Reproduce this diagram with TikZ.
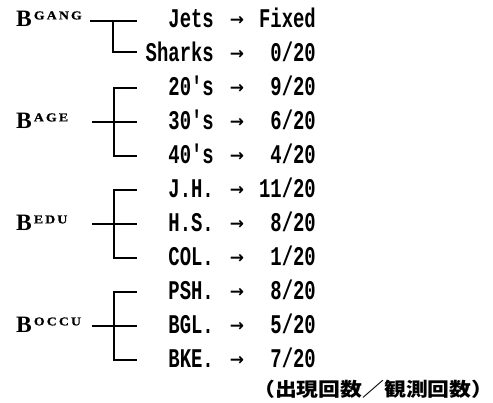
\documentclass[tikz,border=0pt]{standalone}
\usepackage{fontspec}
\setmainfont{Liberation Serif}
\newfontfamily\monof[FakeStretch=0.7]{Liberation Mono}
\newfontfamily\arrf{DejaVu Sans}
\newfontfamily\supf[FakeStretch=1.15,LetterSpace=18,BoldFeatures={FakeBold=1}]{Liberation Serif}
\newfontfamily\cjkf[FakeStretch=1.15]{Noto Sans CJK JP}
\newcommand{\BL}[1]{B\hspace{2pt}\raisebox{7.6pt}{\supf\bfseries\fontsize{12}{12}\selectfont #1}}
\begin{document}
\begin{tikzpicture}[x=1pt,y=-1pt,
  blab/.style={anchor=base west,inner sep=0pt,font=\bfseries\fontsize{23.5}{23.5}\selectfont},
  rowlab/.style={anchor=base east,inner sep=0pt,font=\monof\bfseries\fontsize{27}{27}\selectfont},
  vallab/.style={anchor=base east,inner sep=0pt,font=\monof\bfseries\fontsize{27}{27}\selectfont},
  arr/.style={anchor=base,inner sep=0pt,font=\arrf\bfseries\fontsize{17}{17}\selectfont},
  conn/.style={line width=2pt,line join=miter}]
\useasboundingbox (0,0) rectangle (493,403);
% ---- labels B
\node[blab] (bG) at (16,27) {\BL{GANG}};
\node[blab] (bA) at (16,129) {\BL{AGE}};
\node[blab] (bE) at (16,231) {\BL{EDU}};
\node[blab] (bO) at (16,333) {\BL{OCCU}};
% ---- rows
\foreach \n/\y/\t/\v in {r1/20/Jets/Fixed, r2/54/Sharks/0\slash 20, r3/88/20's/9\slash 20, r4/122/30's/6\slash 20, r5/156/40's/4\slash 20, r6/190/J.H./11\slash 20, r7/224/H.S./8\slash 20, r8/258/COL./1\slash 20, r9/292/PSH./8\slash 20, r10/326/BGL./5\slash 20, r11/360/BKE./7\slash 20}{
  \node[rowlab] (\n) at (214,\y+7.5) {\t};
  \node[arr] (\n a) at (237,\y+6) {→};
  \node[vallab] (\n v) at (316,\y+7.5) {\v};
}
% ---- connectors
\coordinate (gS) at (90,21);  \coordinate (gV) at (113,21); \coordinate (gE1) at (137,21);
\coordinate (gV2) at (113,52); \coordinate (gE2) at (137,52);
\draw[conn] (gS) -- (gE1);
\draw[conn] (gV) -- (gV2) -- (gE2);
\foreach \g/\c in {a/122, e/224, o/326}{
  \coordinate (\g S) at (92,\c);
  \coordinate (\g M) at (137,\c);
  \coordinate (\g T) at (137,\c-34);
  \coordinate (\g VT) at (114,\c-34);
  \coordinate (\g VB) at (114,\c+34);
  \coordinate (\g B) at (137,\c+34);
  \draw[conn] (\g S) -- (\g M);
  \draw[conn] (\g T) -- (\g VT) -- (\g VB) -- (\g B);
}
% ---- footnote
\node[anchor=base west,inner sep=0pt,font=\cjkf\bfseries\fontsize{19}{19}\selectfont] (note) at (253,397) {（出現回数／観測回数）};
\end{tikzpicture}
\end{document}
